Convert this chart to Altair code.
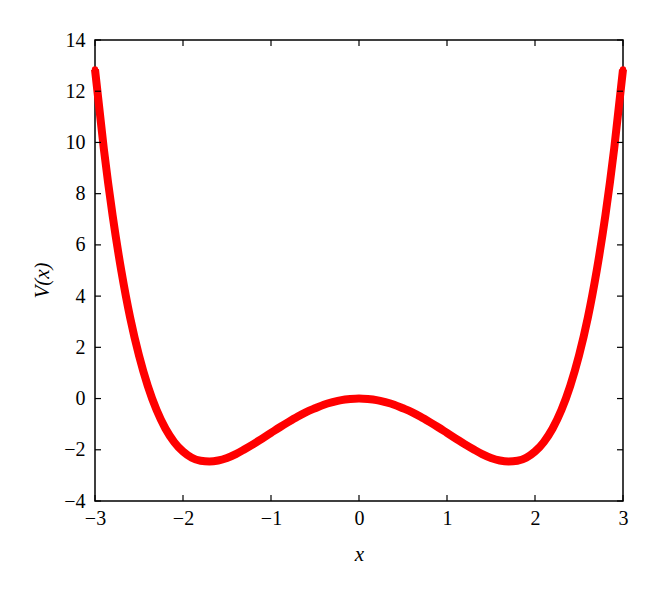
import altair as alt
import pandas as pd

# Values
x_vals = [-3.0, -2.9, -2.8, -2.7, -2.6, -2.5, -2.4, -2.3, -2.2, -2.1,
          -2.0, -1.9, -1.8, -1.7, -1.6, -1.5, -1.4, -1.3, -1.2, -1.1,
          -1.0, -0.9, -0.8, -0.7, -0.6, -0.5, -0.4, -0.3, -0.2, -0.1,
          0.0, 0.1, 0.2, 0.3, 0.4, 0.5, 0.6, 0.7, 0.8, 0.9,
          1.0, 1.1, 1.2, 1.3, 1.4, 1.5, 1.6, 1.7, 1.8, 1.9,
          2.0, 2.1, 2.2, 2.3, 2.4, 2.5, 2.6, 2.7, 2.8, 2.9, 3.0]
v_vals = [12.85, 9.76, 7.15, 4.97, 3.15, 1.68, 0.49, -0.45, -1.17, -1.70,
          -2.07, -2.31, -2.43, -2.46, -2.42, -2.32, -2.17, -1.98, -1.78, -1.56,
          -1.34, -1.12, -0.91, -0.71, -0.53, -0.38, -0.24, -0.14, -0.06, -0.02,
          0.00, -0.02, -0.06, -0.14, -0.24, -0.38, -0.53, -0.71, -0.91, -1.12,
          -1.34, -1.56, -1.78, -1.98, -2.17, -2.32, -2.42, -2.46, -2.43, -2.31,
          -2.07, -1.70, -1.17, -0.45, 0.49, 1.68, 3.15, 4.97, 7.15, 9.76, 12.85]
x_ticks = [-3, -2, -1, 0, 1, 2, 3]
y_ticks = [-4, -2, 0, 2, 4, 6, 8, 10, 12, 14]

W, H = 528, 461
FONT = "Liberation Serif"
RED = "#ff0000"
LBL = 20
TTL = 21

df = pd.DataFrame({"x": x_vals, "V": v_vals})
xt = pd.DataFrame({"x": x_ticks})
yt = pd.DataFrame({"V": y_ticks})

xscale = alt.Scale(domain=[-3, 3], nice=False, zero=False)
yscale = alt.Scale(domain=[-4, 14], nice=False, zero=False)

xenc = alt.X("x:Q", scale=xscale,
             axis=alt.Axis(values=x_ticks, format="d", labelPadding=7,
                           ticks=False, domain=False, grid=False,
                           labelFont=FONT, labelFontSize=LBL, labelColor="black",
                           labelFlush=False,
                           title="x", titleFont=FONT, titleFontSize=TTL,
                           titleFontStyle="italic", titleFontWeight="normal",
                           titleColor="black", titleY=59,
                           titleBaseline="alphabetic"))
yenc = alt.Y("V:Q", scale=yscale,
             axis=alt.Axis(values=y_ticks, format="d", labelPadding=10,
                           ticks=False, domain=False, grid=False,
                           labelFont=FONT, labelFontSize=LBL, labelColor="black",
                           labelFlush=False,
                           title="V(x)", titleFont=FONT, titleFontSize=TTL,
                           titleFontStyle="italic", titleFontWeight="normal",
                           titleColor="black", titleX=-53, titleY=240,
                           titleBaseline="middle", titleAngle=-90))

line = alt.Chart(df).mark_line(color=RED, strokeWidth=8,
                               interpolate="monotone").encode(x=xenc, y=yenc)
pts = alt.Chart(df).mark_circle(color=RED, size=40, opacity=1).encode(
    x=alt.X("x:Q", scale=xscale), y=alt.Y("V:Q", scale=yscale))

tick_style = dict(color="black", strokeWidth=1.2)
xb = alt.Chart(xt).mark_rule(**tick_style).encode(
    x=alt.X("x:Q", scale=xscale), y=alt.value(H), y2=alt.value(H - 6))
xtop = alt.Chart(xt).mark_rule(**tick_style).encode(
    x=alt.X("x:Q", scale=xscale), y=alt.value(0), y2=alt.value(6))
yl = alt.Chart(yt).mark_rule(**tick_style).encode(
    y=alt.Y("V:Q", scale=yscale), x=alt.value(0), x2=alt.value(6))
yr = alt.Chart(yt).mark_rule(**tick_style).encode(
    y=alt.Y("V:Q", scale=yscale), x=alt.value(W), x2=alt.value(W - 6))

chart = alt.layer(line, pts, xb, xtop, yl, yr).properties(
    width=W, height=H,
    autosize=alt.AutoSizeParams(type="none"),
    padding={"left": 87, "top": 32, "right": 29, "bottom": 80},
).configure(
    background="white",
).configure_view(
    stroke="black", strokeWidth=1.5,
).configure_axis(
    ticks=False, domain=False, grid=False,
    labelFont=FONT, labelFontSize=LBL, labelColor="black", labelFlush=False,
    titleFont=FONT, titleFontSize=TTL, titleFontStyle="italic",
    titleFontWeight="normal", titleColor="black",
)

chart.save("out.html", embed_options={"renderer": "svg", "actions": False})
